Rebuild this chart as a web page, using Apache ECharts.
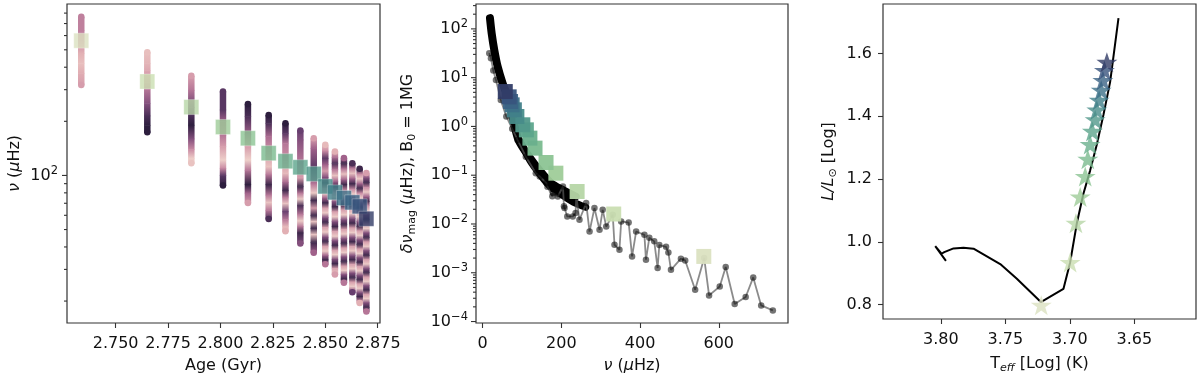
<!DOCTYPE html>
<html>
<head>
<meta charset="utf-8">
<script src="https://cdn.jsdelivr.net/npm/echarts@6/dist/echarts.min.js"></script>
<style>
  html, body { margin: 0; padding: 0; background: #fff; }
  #chart { width: 1200px; height: 379px; }
</style>
</head>
<body>
<div id="chart"></div>
<script>
// ---- panel 1: mode frequencies vs age ----
const ages = [2.7336, 2.7651, 2.7861, 2.8012, 2.8131, 2.8230, 2.8310, 2.8381, 2.8445, 2.8500, 2.8546, 2.8589, 2.8629, 2.8664, 2.8696];
const numax = [562, 333, 240, 186, 161, 133, 120, 111, 102, 86.9, 80.5, 74.9, 70.8, 67.3, 57.4];
// each column, top -> bottom: [frequency, colour level 0 (light) .. 1 (dark)]
const stripNodes = [
  [[764, 0.45], [640, 0.45], [560, 0.4], [480, 0.2], [420, 0.12], [370, 0.22], [319, 0.3]],
  [[485, 0.12], [420, 0.18], [385, 0.25], [330, 0.4], [302, 0.5], [252, 0.7], [215, 0.9], [190, 1.0], [174, 1.0]],
  [[358, 0.3], [299, 0.5], [240, 0.8], [191, 1.0], [160, 0.7], [140, 0.4], [125, 0.05], [117, 0.1]],
  [[293, 0.85], [232, 0.85], [200, 0.6], [168, 0.5], [145, 0.3], [122, 0.03], [110, 0.4], [100, 0.85], [88, 1.0]],
  [[250, 1.0], [213, 0.9], [170, 0.6], [145, 0.3], [122, 0.02], [107, 0.5], [89, 1.0], [80, 0.6], [70.3, 0.3]],
  [[217, 1.0], [195, 0.9], [165, 0.55], [130, 0.3], [112, 0.1], [101, 0.5], [89, 0.95], [78, 0.5], [71, 0.1], [64, 0.5], [57.2, 0.9]],
  [[195, 1.0], [172, 0.85], [151, 0.5], [120, 0.35], [103, 0.15], [92, 0.55], [83, 0.95], [76, 0.5], [70, 0.1], [63, 0.8], [57, 0.5], [52, 0.15], [48.9, 0.2]],
  [[178, 0.8], [158, 0.7], [120, 0.5], [97, 0.3], [87, 0.95], [80, 0.5], [74, 0.05], [68, 0.9], [61, 0.5], [56, 0.05], [52, 0.5], [48, 0.95], [41.8, 0.7]],
  [[161, 0.3], [142, 0.6], [110, 0.85], [90, 0.5], [80, 0.05], [73, 0.95], [66, 0.3], [60, 0.95], [55.5, 0.1], [51, 0.95], [47, 0.1], [42.5, 0.95], [37.1, 0.6]],
  [[148, 0.15], [137, 0.4], [125, 0.85], [115, 0.6], [106, 0.3], [98, 0.7], [91, 0.95], [85, 0.4], [80, 0.05], [75, 0.6], [70.5, 0.95], [66, 0.3], [62, 0.05], [58.5, 0.7], [55, 0.95], [51.5, 0.3], [48.5, 0.05], [45.5, 0.7], [43, 0.95], [40.5, 0.3], [38, 0.05], [36, 0.6], [34, 0.95], [32, 0.5]],
  [[136, 0.2], [126, 0.55], [117, 0.9], [108, 0.5], [100, 0.1], [93, 0.6], [87, 0.95], [81, 0.4], [76, 0.05], [71.5, 0.7], [67, 0.95], [63, 0.3], [59, 0.05], [55.5, 0.7], [52, 0.95], [49, 0.3], [46, 0.05], [43.5, 0.7], [41, 0.95], [38.5, 0.3], [36.3, 0.05], [34.3, 0.7], [32.3, 0.95], [30.5, 0.3], [28.8, 0.1], [28.1, 0.3]],
  [[125, 0.6], [117, 0.95], [109, 0.5], [102, 0.1], [95, 0.6], [89, 0.95], [83, 0.4], [78, 0.05], [73, 0.7], [68.5, 0.95], [64.5, 0.3], [60.5, 0.05], [57, 0.7], [53.5, 0.95], [50.3, 0.3], [47.3, 0.05], [44.6, 0.7], [42, 0.95], [39.6, 0.3], [37.4, 0.05], [35.3, 0.7], [33.3, 0.95], [31.4, 0.3], [29.7, 0.05], [28.1, 0.7], [26.6, 0.95], [25.3, 0.5]],
  [[117, 0.9], [110, 0.5], [103, 0.1], [96, 0.6], [90, 0.95], [84, 0.4], [79, 0.05], [74, 0.7], [69.5, 0.95], [65.3, 0.3], [61.4, 0.05], [57.8, 0.7], [54.4, 0.95], [51.2, 0.3], [48.2, 0.05], [45.4, 0.7], [42.8, 0.95], [40.4, 0.3], [38.1, 0.05], [36, 0.7], [34, 0.95], [32.1, 0.3], [30.3, 0.05], [28.7, 0.7], [27.1, 0.95], [25.6, 0.3], [24.2, 0.05], [23, 0.6], [22.4, 0.8]],
  [[109, 0.95], [102, 0.4], [96, 0.05], [90, 0.6], [85, 0.95], [80, 0.4], [75, 0.05], [70.5, 0.7], [66.5, 0.95], [62.5, 0.3], [59, 0.05], [55.5, 0.7], [52.3, 0.95], [49.3, 0.3], [46.5, 0.05], [43.9, 0.7], [41.4, 0.95], [39.1, 0.3], [36.9, 0.05], [34.9, 0.7], [33, 0.95], [31.2, 0.3], [29.5, 0.05], [27.9, 0.7], [26.4, 0.95], [25, 0.3], [23.6, 0.05], [22.4, 0.7], [21.2, 0.95], [20.1, 0.4], [19.5, 0.2]],
  [[103, 0.3], [97, 0.7], [91.5, 0.95], [86, 0.4], [81, 0.05], [76.5, 0.6], [72, 0.95], [68, 0.4], [64, 0.05], [60.5, 0.7], [57, 0.95], [53.8, 0.3], [50.8, 0.05], [48, 0.7], [45.3, 0.95], [42.8, 0.3], [40.4, 0.05], [38.2, 0.7], [36.1, 0.95], [34.1, 0.3], [32.2, 0.05], [30.5, 0.7], [28.9, 0.95], [27.3, 0.3], [25.8, 0.05], [24.4, 0.7], [23.1, 0.95], [21.9, 0.3], [20.7, 0.05], [19.6, 0.7], [18.5, 0.95], [17.5, 0.5]]
];

// ---- panel 2: magnetic shift vs frequency ----
const dnuAtNumax = [0.00216, 0.0160, 0.0463, 0.110, 0.182, 0.359, 0.575, 0.851, 1.08, 1.60, 2.19, 2.77, 3.24, 4.04, 5.19];
const ridge = [[18.5, 166], [22.8, 81.6], [29.4, 37.1], [38, 16.9], [50.6, 7.7], [66.6, 3.5], [77.7, 1.37], [91.1, 0.53], [118, 0.24], [143.3, 0.129], [173, 0.069], [202.5, 0.05], [236, 0.0366]];
const ridgeLow = [[95, 0.5], [120, 0.2], [145, 0.105], [170, 0.06], [200, 0.04], [230, 0.028], [262, 0.022]];
const cloud = [
  [16.7, 31.8], [21, 25], [27, 14], [33.7, 9.0], [46, 3.5], [60, 1.6], [75, 0.9], [88.6, 0.53], [109.6, 0.24], [135, 0.11],
  [145, 0.094], [162, 0.069], [164.6, 0.058], [177, 0.037], [178.7, 0.043], [191, 0.0366], [204, 0.0586], [206.6, 0.0232],
  [208, 0.0212], [215, 0.0143], [229, 0.01426], [236, 0.0167], [238, 0.0366], [246, 0.0122], [263, 0.0268], [271.6, 0.0070],
  [284, 0.0212], [297, 0.0076], [305, 0.0195], [314, 0.0089], [330.6, 0.0154], [335, 0.00375], [347.6, 0.00296], [352, 0.0113],
  [371, 0.0107], [379.7, 0.00216], [390, 0.0070], [411, 0.0060], [415, 0.00185], [423.5, 0.0052], [436, 0.0044], [444.6, 0.00125],
  [449, 0.0037], [466, 0.0034], [472, 0.0026], [478.5, 0.00115], [503.8, 0.00194], [514.7, 0.00179], [540, 0.000449], [563, 0.0020],
  [575.4, 0.000343], [602.5, 0.000524], [617.7, 0.00131], [640.5, 0.000229], [668.4, 0.000318], [687.6, 0.000802], [707.8, 0.000214], [737.5, 0.000169]
];

// ---- panel 3: HR diagram ----
const trackTeff = [3.7961, 3.8044, 3.7995, 3.7974, 3.7902, 3.7825, 3.7747, 3.754, 3.7411, 3.7225, 3.705, 3.6998, 3.6946, 3.6895, 3.6843, 3.6791, 3.674, 3.6688, 3.6623];
const trackL = [0.939, 0.986, 0.962, 0.967, 0.979, 0.981, 0.978, 0.929, 0.882, 0.808, 0.850, 0.934, 1.059, 1.153, 1.227, 1.310, 1.404, 1.509, 1.713];
const starTeff = [3.7222, 3.6998, 3.6953, 3.692, 3.6881, 3.6861, 3.6843, 3.6825, 3.6804, 3.6791, 3.6773, 3.6757, 3.6744, 3.6732, 3.6713];
const starL = [0.798, 0.934, 1.059, 1.143, 1.208, 1.263, 1.310, 1.352, 1.389, 1.420, 1.451, 1.483, 1.514, 1.546, 1.572];

// ---- ticks ----
const x1Ticks = [2.75, 2.775, 2.8, 2.825, 2.85, 2.875];
const y1Major = [100];
const y1Minor = [20, 30, 40, 50, 60, 70, 80, 90, 200, 300, 400, 500, 600, 700, 800];
const x2Ticks = [0, 200, 400, 600];
const y2Major = [1e-4, 1e-3, 1e-2, 1e-1, 1, 10, 100];
const y2Minor = [2e-4, 3e-4, 4e-4, 5e-4, 6e-4, 7e-4, 8e-4, 9e-4, 2e-3, 3e-3, 4e-3, 5e-3, 6e-3, 7e-3, 8e-3, 9e-3,
  0.02, 0.03, 0.04, 0.05, 0.06, 0.07, 0.08, 0.09, 0.2, 0.3, 0.4, 0.5, 0.6, 0.7, 0.8, 0.9,
  2, 3, 4, 5, 6, 7, 8, 9, 20, 30, 40, 50, 60, 70, 80, 90, 200, 300];
const x3Ticks = [3.65, 3.70, 3.75, 3.80];
const y3Ticks = [0.8, 1.0, 1.2, 1.4, 1.6];

// 颜色
const modelColors = ['#dbe1c1', '#cadeb2', '#b6d6a6', '#9fcc99', '#8cc493', '#7aba8f', '#6ab08d', '#5da58c',
  '#52998b', '#488c8a', '#417f89', '#3d7188', '#3b6385', '#38547d', '#323c67'];
const stripStops = [[0, [240, 214, 206]], [0.2, [226, 176, 180]], [0.4, [201, 138, 163]], [0.6, [160, 97, 138]], [0.8, [104, 63, 111]], [1, [45, 30, 62]]];

function levelColor(t) {
  for (let k = 1; k < stripStops.length; k++) {
    if (t <= stripStops[k][0]) {
      const a = stripStops[k - 1], b = stripStops[k];
      const f = (t - a[0]) / (b[0] - a[0]);
      const c = a[1].map((v, i) => Math.round(v + (b[1][i] - v) * f));
      return `rgb(${c[0]},${c[1]},${c[2]})`;
    }
  }
  return 'rgb(45,30,62)';
}

const FONT = 'DejaVu Sans';
const INK = '#111';
const FRAME = '#333';

function powLabel(v) {
  const lg = Math.log10(v);
  const e = Math.round(lg);
  if (Math.abs(lg - e) > 1e-6) return '';
  return '{b|10}{e|' + String(e).replace('-', '−') + '}';
}
const powRich = {
  b: { fontFamily: FONT, fontSize: 16, color: INK },
  e: { fontFamily: FONT, fontSize: 11.5, color: INK, padding: [0, 0, 9, 0] },
};

const richName = {
  i: { fontFamily: FONT, fontSize: 16, fontStyle: 'italic', color: INK },
  s: { fontFamily: FONT, fontSize: 11, color: INK, padding: [9, 0, 0, 0] },
  si: { fontFamily: FONT, fontSize: 11, fontStyle: 'italic', color: INK, padding: [9, 0, 0, 0] },
};
const nameStyle = { fontFamily: FONT, fontSize: 16, color: INK, rich: richName };
const labelStyle = { fontFamily: FONT, fontSize: 16, color: INK };

// strip segments built from the column nodes
const stripData = [];
stripNodes.forEach((nodes, i) => {
  for (let j = 0; j < nodes.length - 1; j++) {
    stripData.push([ages[i], nodes[j][0], nodes[j + 1][0], nodes[j][1], nodes[j + 1][1],
      j === 0 ? 1 : 0, j === nodes.length - 2 ? 1 : 0]);
  }
});

function tickSeries(xi, xAnchor, vals, len) {
  return {
    type: 'custom', xAxisIndex: xi, yAxisIndex: xi, clip: false, silent: true, z: 5,
    encode: { x: 0, y: 1 },
    data: vals.map((v) => [xAnchor, v]),
    renderItem: (params, api) => {
      const y = api.coord([api.value(0), api.value(1)])[1];
      const x0 = params.coordSys.x;
      return {
        type: 'line',
        shape: { x1: x0 - len, y1: y, x2: x0, y2: y },
        style: { stroke: FRAME, lineWidth: 1.1 },
      };
    },
  };
}

const chart = echarts.init(document.getElementById('chart'));

const baseX = {
  type: 'value',
  axisLine: { show: false },
  splitLine: { show: false },
  nameLocation: 'middle',
  nameTextStyle: nameStyle,
};

const option = {
  animation: false,
  textStyle: { fontFamily: FONT },
  grid: [
    { left: 67, top: 4, width: 313, height: 319, show: true, borderColor: FRAME, borderWidth: 1.2 },
    { left: 476, top: 4, width: 312, height: 319, show: true, borderColor: FRAME, borderWidth: 1.2 },
    { left: 883, top: 4, width: 313, height: 320, show: true, borderColor: FRAME, borderWidth: 1.2 },
  ],
  xAxis: [
    Object.assign({}, baseX, {
      gridIndex: 0, min: 2.7268, max: 2.8761,
      axisTick: { customValues: x1Ticks, length: 5, lineStyle: { color: FRAME, width: 1.1 } },
      axisLabel: Object.assign({ customValues: x1Ticks, margin: 13, formatter: (v) => v.toFixed(3) }, labelStyle),
      name: 'Age (Gyr)', nameGap: 35,
    }),
    Object.assign({}, baseX, {
      gridIndex: 1, min: -17, max: 776,
      axisTick: { customValues: x2Ticks, length: 5, lineStyle: { color: FRAME, width: 1.1 } },
      axisLabel: Object.assign({ customValues: x2Ticks, margin: 13, formatter: (v) => String(v) }, labelStyle),
      name: '{i|ν} ({i|μ}Hz)', nameGap: 35,
    }),
    Object.assign({}, baseX, {
      gridIndex: 2, min: 3.6022, max: 3.8449, inverse: true,
      axisTick: { customValues: x3Ticks, length: 5, lineStyle: { color: FRAME, width: 1.1 } },
      axisLabel: Object.assign({ customValues: x3Ticks, margin: 13, formatter: (v) => v.toFixed(2) }, labelStyle),
      name: 'T{si|eff} [Log] (K)', nameGap: 35,
    }),
  ],
  yAxis: [
    {
      gridIndex: 0, type: 'log', logBase: 10, min: 15.1, max: 899,
      axisLine: { show: false }, axisTick: { show: false }, splitLine: { show: false },
      axisLabel: Object.assign({ margin: 9, formatter: powLabel, rich: powRich }, labelStyle),
      name: '{i|ν} ({i|μ}Hz)', nameLocation: 'middle', nameRotate: 90, nameGap: 44, nameTextStyle: nameStyle,
    },
    {
      gridIndex: 1, type: 'log', logBase: 10, min: 9.33e-5, max: 323.6,
      axisLine: { show: false }, axisTick: { show: false }, splitLine: { show: false },
      axisLabel: Object.assign({ margin: 8, formatter: powLabel, rich: powRich }, labelStyle),
      name: '{i|δν}{s|mag} ({i|μ}Hz), B{s|0} = 1MG', nameLocation: 'middle', nameRotate: 90, nameGap: 58, nameTextStyle: nameStyle,
    },
    {
      gridIndex: 2, type: 'value', min: 0.754, max: 1.758,
      axisLine: { show: false }, splitLine: { show: false },
      axisTick: { customValues: y3Ticks, length: 5, lineStyle: { color: FRAME, width: 1.1 } },
      axisLabel: Object.assign({ customValues: y3Ticks, margin: 11, formatter: (v) => v.toFixed(1) }, labelStyle),
      name: '{i|L/L}{s|⊙} [Log]', nameLocation: 'middle', nameRotate: 90, nameGap: 44, nameTextStyle: nameStyle,
    },
  ],
  series: [
    // panel 1 strips
    {
      type: 'custom', xAxisIndex: 0, yAxisIndex: 0, silent: true, z: 2,
      encode: { x: 0, y: 1 },
      data: stripData,
      renderItem: (params, api) => {
        const a = api.coord([api.value(0), api.value(1)]);
        const b = api.coord([api.value(0), api.value(2)]);
        const c0 = levelColor(api.value(3));
        const c1 = levelColor(api.value(4));
        const w = 6.5;
        const children = [{
          type: 'rect',
          shape: { x: a[0] - w / 2, y: a[1], width: w, height: b[1] - a[1] + 0.5 },
          style: { fill: { type: 'linear', x: 0, y: 0, x2: 0, y2: 1, colorStops: [{ offset: 0, color: c0 }, { offset: 1, color: c1 }] } },
        }];
        if (api.value(5)) children.push({ type: 'circle', shape: { cx: a[0], cy: a[1], r: w / 2 }, style: { fill: c0 } });
        if (api.value(6)) children.push({ type: 'circle', shape: { cx: b[0], cy: b[1], r: w / 2 }, style: { fill: c1 } });
        return { type: 'group', children };
      },
    },
    {
      type: 'scatter', xAxisIndex: 0, yAxisIndex: 0, z: 4, symbol: 'rect', symbolSize: 15,
      data: ages.map((a, i) => [a, numax[i]]),
      itemStyle: { color: (p) => modelColors[p.dataIndex], borderColor: 'rgba(255,255,255,0.35)', borderWidth: 1 },
    },
    tickSeries(0, 2.75, y1Major, 5),
    tickSeries(0, 2.75, y1Minor, 3),

    // panel 2
    {
      type: 'line', xAxisIndex: 1, yAxisIndex: 1, z: 2, smooth: 0.3, symbol: 'none',
      data: ridge,
      lineStyle: { color: '#000', width: 8, cap: 'round' },
    },
    {
      type: 'line', xAxisIndex: 1, yAxisIndex: 1, z: 2, smooth: 0.3, symbol: 'none',
      data: ridgeLow,
      lineStyle: { color: '#000', width: 7, cap: 'round' },
    },
    {
      type: 'line', xAxisIndex: 1, yAxisIndex: 1, z: 3, symbol: 'circle', symbolSize: 6.5,
      data: cloud,
      lineStyle: { color: 'rgba(90,90,90,0.7)', width: 1.8 },
      itemStyle: { color: 'rgba(0,0,0,0.55)' },
    },
    {
      type: 'scatter', xAxisIndex: 1, yAxisIndex: 1, z: 4, symbol: 'rect', symbolSize: 15,
      data: numax.map((v, i) => [v, dnuAtNumax[i]]),
      itemStyle: { color: (p) => modelColors[p.dataIndex], opacity: 0.95 },
    },
    tickSeries(1, 0, y2Major, 5),
    tickSeries(1, 0, y2Minor, 3),

    // panel 3
    {
      type: 'line', xAxisIndex: 2, yAxisIndex: 2, z: 2, symbol: 'none',
      data: trackTeff.map((t, i) => [t, trackL[i]]),
      lineStyle: { color: '#000', width: 2 },
    },
    {
      type: 'scatter', xAxisIndex: 2, yAxisIndex: 2, z: 4,
      symbol: 'path://M50,0 L61.8,35.4 L100,35.4 L69.1,57.3 L80.9,95.1 L50,72.4 L19.1,95.1 L30.9,57.3 L0,35.4 L38.2,35.4 Z',
      symbolSize: [21, 20],
      data: starTeff.map((t, i) => [t, starL[i]]),
      itemStyle: { color: (p) => modelColors[p.dataIndex] },
    },
  ],
};

chart.setOption(option);
</script>
</body>
</html>
